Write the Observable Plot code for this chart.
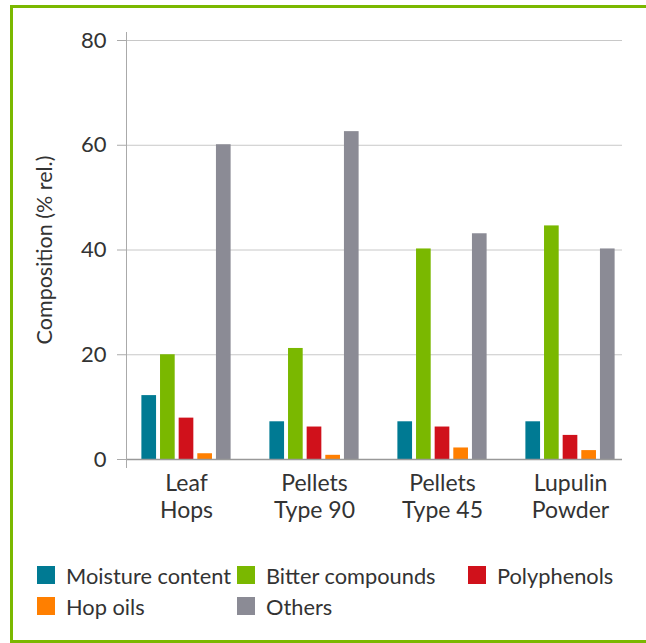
<!DOCTYPE html>
<html>
<head>
<meta charset="utf-8">
<script src="https://cdn.jsdelivr.net/npm/d3@7"></script>
<script src="https://cdn.jsdelivr.net/npm/@observablehq/plot@0.6"></script>
<style>
  html, body { margin: 0; padding: 0; background: #fff; overflow: hidden; }
  #wrap { position: relative; width: 646px; height: 643px; overflow: hidden; font-family: Lato, sans-serif; }
  #border { position: absolute; left: 10px; top: 5px; width: 660px; height: 638px; box-sizing: border-box;
            border-top: 3px solid #7ab800; border-left: 3px solid #7ab800; border-bottom: 3px solid #7ab800; }
  #chart { position: absolute; left: 0; top: 0; }
  #chart g[aria-label="y-axis tick label"] text { font-size: 22px; }
  #chart g[aria-label="x-axis tick label"] text { font-size: 23px; }
  #chart g[aria-label="y-axis label"] text { font-size: 21.5px; }
  #legend { position: absolute; left: 37px; top: 565px; display: grid;
            grid-template-columns: 200px 231px auto; row-gap: 11px; color: #333; font-size: 21.8px; }
  .item { display: flex; align-items: center; height: 20px; white-space: nowrap; }
  .sw { width: 18px; height: 18px; margin-right: 11px; flex: none; }
</style>
</head>
<body>
<div id="wrap">
  <div id="border"></div>
  <div id="chart"></div>
  <div id="legend"></div>
</div>
<script>
const categories = ["Leaf Hops", "Pellets Type 90", "Pellets Type 45", "Lupulin Powder"];
const tickLabels = ["Leaf\nHops", "Pellets\nType 90", "Pellets\nType 45", "Lupulin\nPowder"];
const series = ["Moisture content", "Bitter compounds", "Polyphenols", "Hop oils", "Others"];
const moisture = [12.2, 7.2, 7.2, 7.2];
const bitter = [20, 21.2, 40.2, 44.6];
const polyphenols = [7.9, 6.2, 6.2, 4.6];
const hopOils = [1.1, 0.8, 2.2, 1.7];
const others = [60.1, 62.6, 43.1, 40.2];
const colors = ["#007a93", "#7ab800", "#d0111b", "#ff7f00", "#8b8b95"];
const yTicks = [0, 20, 40, 60, 80];

const valuesBySeries = [moisture, bitter, polyphenols, hopOils, others];
const labelOf = new Map(categories.map((c, i) => [c, tickLabels[i]]));

// layout of the group bands (x band scale) and the bars inside each band
const xRange = [120.6, 635.8];
const bandWidth = (xRange[1] - xRange[0]) / categories.length;
const inner = d3.scaleBand(series, [0, bandWidth]).paddingInner(0.17).paddingOuter(1.04);

const barMarks = series.map((s, j) => {
  const rows = categories.map((c, i) => ({category: c, series: s, value: valuesBySeries[j][i]}));
  const left = inner(s);
  return Plot.barY(rows, {
    x: "category", y: "value", fill: "series",
    insetLeft: left, insetRight: bandWidth - left - inner.bandwidth()
  });
});

const chart = Plot.plot({
  width: 646,
  height: 530,
  marginLeft: 126,
  marginRight: 24,
  marginTop: 40,
  marginBottom: 71,
  style: {fontFamily: "Lato, sans-serif", fontSize: "21px", color: "#333", background: "transparent"},
  x: {domain: categories, range: xRange, padding: 0, axis: null},
  y: {domain: [0, 80], axis: null},
  color: {domain: series, range: colors},
  marks: [
    Plot.gridY(yTicks.slice(1), {stroke: "#c8c8c8", strokeOpacity: 1, strokeWidth: 1}),
    ...barMarks,
    Plot.ruleY([0], {stroke: "#999", strokeWidth: 1.5}),
    Plot.frame({anchor: "left", stroke: "#aaa", insetTop: -8, insetBottom: -8}),
    Plot.axisY(yTicks, {
      anchor: "left", tickSize: 9, tickPadding: 11, stroke: "#aaa", fill: "#333",
      label: "Composition (% rel.)", labelAnchor: "center", labelOffset: 90, labelArrow: "none"
    }),
    Plot.axisX({
      anchor: "bottom", tickSize: 0, tickPadding: 13, fill: "#333",
      lineHeight: 1.15, label: null, tickFormat: (d) => labelOf.get(d)
    })
  ]
});
document.getElementById("chart").append(chart);

const legend = document.getElementById("legend");
series.forEach((s, j) => {
  const it = document.createElement("div");
  it.className = "item";
  const sw = document.createElement("span");
  sw.className = "sw";
  sw.style.background = colors[j];
  const t = document.createElement("span");
  t.textContent = s;
  it.append(sw, t);
  legend.append(it);
});
</script>
</body>
</html>
